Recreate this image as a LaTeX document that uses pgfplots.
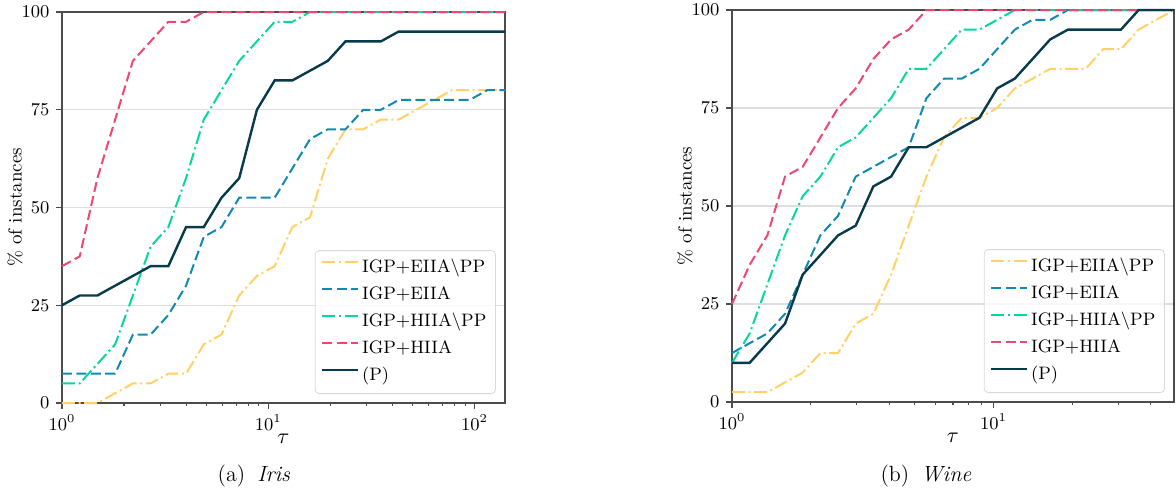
\documentclass[border=0pt]{standalone}
\usepackage{pgfplots}
\pgfplotsset{compat=1.18}
\usepackage{pgfplotstable}

\definecolor{cY}{HTML}{FFD166}
\definecolor{cB}{HTML}{118AB2}
\definecolor{cG}{HTML}{06D6A0}
\definecolor{cR}{HTML}{EF476F}
\definecolor{cP}{HTML}{073B4C}

\tikzset{
  dsh/.style={dash pattern=on 5pt off 2.2pt},
  dshdot/.style={dash pattern=on 6.5pt off 1.8pt on 1pt off 1.8pt},
}

% Iris
\pgfplotstableread{
t      yel   blu   grn   red   pp
1      0     7.5   5     35    25
1.219  0     7.5   5     37.5  27.5
1.485  0     7.5   10    57.5  27.5
1.810  2.5   7.5   15    72.5  30
2.206  5     17.5  27.5  87.5  32.5
2.689  5     17.5  40    92.5  35
3.277  7.5   22.5  45    97.5  35
3.994  7.5   30    57.5  97.5  45
4.867  15    42.5  72.5  100   45
5.932  17.5  45    80    100   52.5
7.228  27.5  52.5  87.5  100   57.5
8.809  32.5  52.5  92.5  100   75
10.74  35    52.5  97.5  100   82.5
13.08  45    60    97.5  100   82.5
15.94  47.5  67.5  100   100   85
19.43  62.5  70    100   100   87.5
23.68  70    70    100   100   92.5
28.86  70    75    100   100   92.5
35.17  72.5  75    100   100   92.5
42.86  72.5  77.5  100   100   95
52.24  75    77.5  100   100   95
63.66  77.5  77.5  100   100   95
77.59  80    77.5  100   100   95
94.56  80    77.5  100   100   95
115.2  80    80    100   100   95
140.4  80    80    100   100   95
}\iris

% Wine
\pgfplotstableread{
t      yel   blu   grn   red   pp
1      2.5   12.5  10    25    10
1.1685 2.5   15    17.5  35    10
1.3653 2.5   17.5  30    42.5  15
1.5953 5     22.5  42.5  57.5  20
1.8642 7.5   32.5  52.5  60    32.5
2.1783 12.5  42.5  57.5  67.5  37.5
2.5444 12.5  47.5  65    75    42.5
2.9729 20    57.5  67.5  80    45
3.4736 22.5  60    72.5  87.5  55
4.0586 32.5  62.5  77.5  92.5  57.5
4.7421 45    65    85    95    65
5.5407 57.5  77.5  85    100   65
6.4738 67.5  82.5  90    100   67.5
7.5641 72.5  82.5  95    100   70
8.8379 72.5  85    95    100   72.5
10.33  75    90    97.5  100   80
12.07  80    95    100   100   82.5
14.11  82.5  97.5  100   100   87.5
16.49  85    97.5  100   100   92.5
19.27  85    100   100   100   95
22.51  85    100   100   100   95
26.31  90    100   100   100   95
30.74  90    100   100   100   95
35.92  95    100   100   100   100
41.97  97.5  100   100   100   100
49.04  100   100   100   100   100
}\wine

\pgfplotsset{
  every axis/.append style={
    scale only axis,
    ymin=0, ymax=100, ytick={0,25,50,75,100},
    xtick={1,10,100},
    minor xtick={2,3,4,5,6,7,8,9,20,30,40,50,60,70,80,90},
    tick pos=left, tick align=outside,
    major tick length=2.8pt, minor tick length=1.6pt,
    every tick/.style={black!70, line width=0.6pt},
    ymajorgrids, grid style={black!13, line width=0.6pt},
    axis line style={black!70, line width=0.7pt},
    tick label style={font=\fontsize{9}{10}\selectfont},
    xticklabel style={inner sep=1pt, yshift=-2pt},
    clip=false,
    legend style={at={(axis description cs:1,0)}, anchor=south east, xshift=-4.6pt, yshift=4.5pt,
      draw=black!15, rounded corners=2pt, fill=white, fill opacity=0.8, text opacity=1,
      font=\fontsize{9}{10}\selectfont, inner sep=3pt, row sep=2pt,
      nodes={inner sep=1.5pt, text height=6.4pt, text depth=2.1pt}},
    legend cell align=left,
    every axis plot/.append style={line width=1pt},
  },
  every axis x label/.style={at={(axis description cs:0.5,0)}, anchor=center, inner sep=0.5pt, yshift=-18pt, font=\fontsize{11}{12}\selectfont},
  every axis y label/.style={at={(axis description cs:-0.1061,0.5)}, rotate=90, anchor=center, font=\fontsize{9.5}{11}\selectfont},
}

\begin{document}
\begin{tikzpicture}
\path[use as bounding box] (0,0) rectangle (587.5pt,247pt);

\begin{axis}[xmode=log, at={(31pt,45.5pt)}, anchor=south west,
  width=221.5pt, height=195.5pt, xmin=1, xmax=140.4,
  xlabel={$\tau$}, ylabel={\% of instances},
  legend image code/.code={\draw[#1] (0pt,3pt) -- (17.8pt,3pt);}]
\addplot[cY, dshdot] table[x=t, y=yel] {\iris};
\addlegendentry{IGP+EIIA$\backslash$PP}
\addplot[cB, dsh] table[x=t, y=blu] {\iris};
\addlegendentry{IGP+EIIA}
\addplot[cG, dshdot] table[x=t, y=grn] {\iris};
\addlegendentry{IGP+HIIA$\backslash$PP}
\addplot[cR, dsh] table[x=t, y=red] {\iris};
\addlegendentry{IGP+HIIA}
\addplot[cP, line width=1.2pt] table[x=t, y=pp] {\iris};
\addlegendentry{(P)}
\end{axis}

\begin{axis}[xmode=log, at={(366pt,46pt)}, anchor=south west,
  width=221pt, height=196pt, xmin=1, xmax=49.04,
  xlabel={$\tau$}, ylabel={\% of instances},
  legend image code/.code={\draw[#1] (0pt,3pt) -- (17.8pt,3pt);}]
\addplot[cY, dshdot] table[x=t, y=yel] {\wine};
\addlegendentry{IGP+EIIA$\backslash$PP}
\addplot[cB, dsh] table[x=t, y=blu] {\wine};
\addlegendentry{IGP+EIIA}
\addplot[cG, dshdot] table[x=t, y=grn] {\wine};
\addlegendentry{IGP+HIIA$\backslash$PP}
\addplot[cR, dsh] table[x=t, y=red] {\wine};
\addlegendentry{IGP+HIIA}
\addplot[cP, line width=1.2pt] table[x=t, y=pp] {\wine};
\addlegendentry{(P)}
\end{axis}

\node[anchor=base, font=\fontsize{11}{13}\selectfont] at (127pt,6.5pt) {(a)\hspace{6pt}\textit{Iris}};
\node[anchor=base, font=\fontsize{11}{13}\selectfont] at (463pt,6.5pt) {(b)\hspace{6pt}\textit{Wine}};
\end{tikzpicture}
\end{document}
